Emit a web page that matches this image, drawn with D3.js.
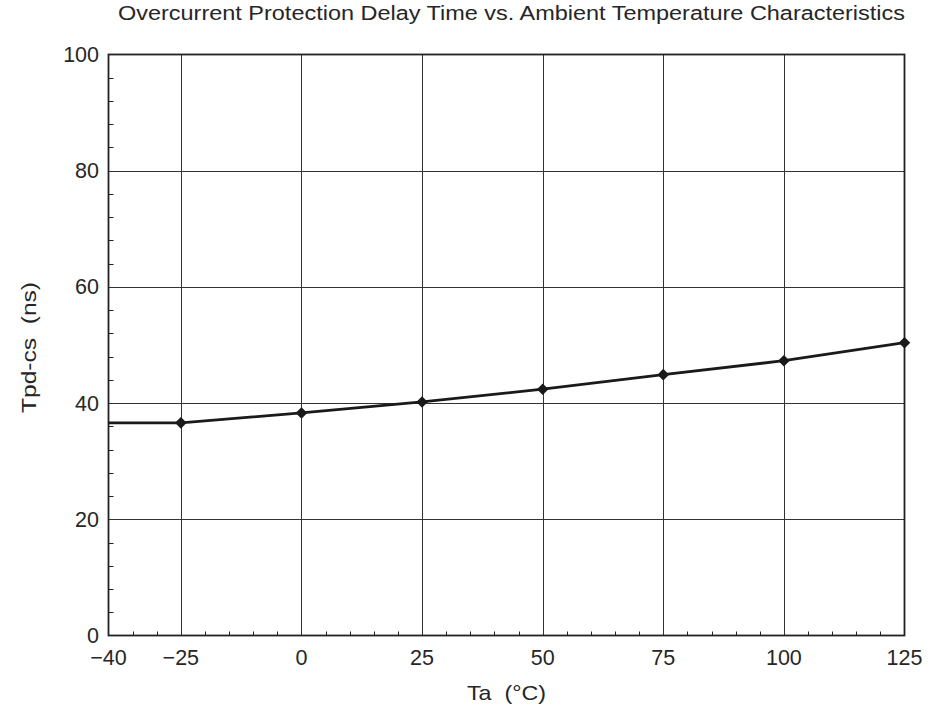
<!DOCTYPE html>
<html><head><meta charset="utf-8">
<script src="https://cdn.jsdelivr.net/npm/d3@7"></script>
<style>body{margin:0;background:#fff}svg{display:block}text{font-family:"Liberation Sans",Arial,sans-serif;fill:#262626;white-space:pre}</style>
</head><body><svg id="c" width="930" height="713"></svg>
<script>
const temps = [-40, -25, 0, 25, 50, 75, 100, 125];
const delays = [36.6, 36.6, 38.3, 40.2, 42.4, 44.9, 47.3, 50.4];
const markerTemps = [-25, 0, 25, 50, 75, 100, 125];
const xTicks = [-40, -25, 0, 25, 50, 75, 100, 125];
const yTicks = [0, 20, 40, 60, 80, 100];
const title = "Overcurrent Protection Delay Time vs. Ambient Temperature Characteristics";
const xLabel = "Ta  (°C)";
const yLabel = "Tpd-cs  (ns)";

const svg = d3.select("#c");
const L = 108.5, R = 904.5, T = 54.5, B = 635.5;
const x = d3.scaleLinear().domain([-40, 125]).range([L, R]);
const y = d3.scaleLinear().domain([0, 100]).range([B, T]);

// grid
const g = svg.append("g");
g.selectAll("line.vg").data(xTicks.filter(d => d > -40 && d < 125)).join("line")
  .attr("x1", d => Math.round(x(d)) + 0.5).attr("x2", d => Math.round(x(d)) + 0.5)
  .attr("y1", T).attr("y2", B).attr("stroke", "#333").attr("stroke-width", 1);
g.selectAll("line.hg").data(yTicks.filter(d => d > 0 && d < 100)).join("line")
  .attr("y1", d => Math.round(y(d)) + 0.5).attr("y2", d => Math.round(y(d)) + 0.5)
  .attr("x1", L).attr("x2", R).attr("stroke", "#333").attr("stroke-width", 1);

// minor ticks (inward)
const xMinor = d3.range(-35, 125, 5).filter(d => !xTicks.includes(d));
g.selectAll("line.xm").data(xMinor).join("line")
  .attr("x1", d => Math.round(x(d)) + 0.5).attr("x2", d => Math.round(x(d)) + 0.5)
  .attr("y1", B).attr("y2", B - 4).attr("stroke", "#222").attr("stroke-width", 1);
const yMinor = d3.range(4, 100, 4).filter(d => !yTicks.includes(d));
g.selectAll("line.ym").data(yMinor).join("line")
  .attr("y1", d => Math.round(y(d)) + 0.5).attr("y2", d => Math.round(y(d)) + 0.5)
  .attr("x1", L).attr("x2", L + 5).attr("stroke", "#222").attr("stroke-width", 1);

// frame
svg.append("rect").attr("x", L).attr("y", T).attr("width", R - L).attr("height", B - T)
  .attr("fill", "none").attr("stroke", "#222").attr("stroke-width", 1.8);

// tick labels
svg.selectAll("text.xt").data(xTicks).join("text")
  .attr("x", d => x(d)).attr("y", 665).attr("text-anchor", "middle")
  .attr("font-size", 21.5).text(d => d < 0 ? "\u2212" + Math.abs(d) : d);
svg.selectAll("text.yt").data(yTicks).join("text")
  .attr("x", 99).attr("y", d => y(d) + 7.5).attr("text-anchor", "end")
  .attr("font-size", 21.5).text(d => d);

// line
const pts = temps.map((t, i) => [t, delays[i]]);
svg.append("path").datum(pts)
  .attr("d", d3.line().x(d => x(d[0])).y(d => y(d[1])))
  .attr("fill", "none").attr("stroke", "#1a1a1a").attr("stroke-width", 2.8);
const mpts = pts.filter(p => markerTemps.includes(p[0]));
svg.selectAll("path.m").data(mpts).join("path")
  .attr("d", d3.symbol(d3.symbolDiamond2, 85))
  .attr("transform", d => `translate(${x(d[0])},${y(d[1])})`)
  .attr("fill", "#1a1a1a");

// titles
svg.append("text").attr("x", 511.5).attr("y", 20).attr("text-anchor", "middle")
  .attr("font-size", 20).attr("textLength", 787).attr("lengthAdjust", "spacingAndGlyphs").text(title);
svg.append("text").attr("x", 506.5).attr("y", 700).attr("text-anchor", "middle")
  .attr("font-size", 21).attr("textLength", 79).attr("lengthAdjust", "spacingAndGlyphs").text(xLabel);
svg.append("text").attr("transform", "translate(36,347.5) rotate(-90)")
  .attr("text-anchor", "middle").attr("font-size", 21)
  .attr("textLength", 131).attr("lengthAdjust", "spacingAndGlyphs").text(yLabel);
</script></body></html>
